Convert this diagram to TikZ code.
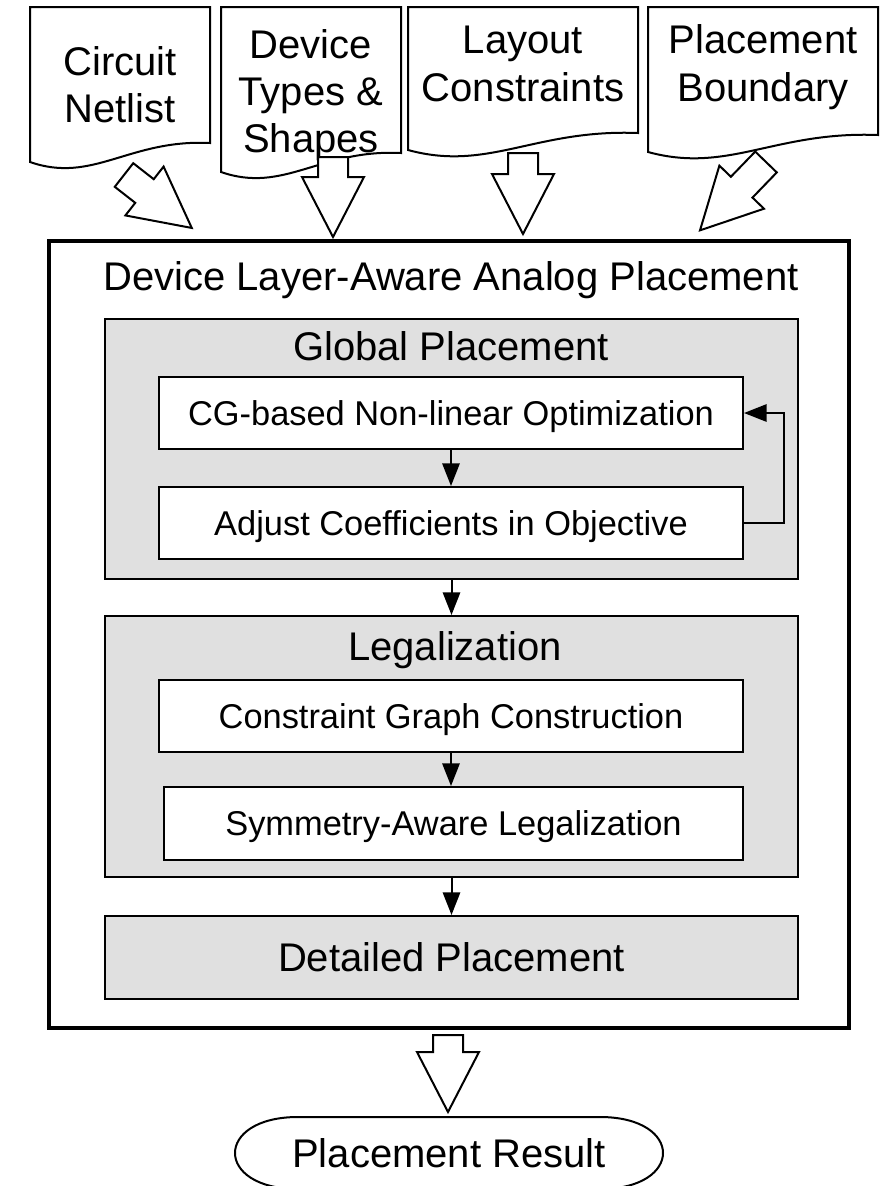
\documentclass[tikz,border=0pt]{standalone}
\usepackage{fontspec}
\setmainfont{Liberation Sans}
\usetikzlibrary{fit, calc, arrows.meta}

\definecolor{groupgray}{RGB}{224,224,224}

\newcommand{\docshape}[4]{%
  \draw[doc] (#1,7) -- (#2,7) -- (#2,#4)
    .. controls ({#1+0.55*(#2-#1)},{#4-4}) and ({#1+0.35*(#2-#1)},{#3+22}) .. (#1,#3) -- cycle;}

\tikzset{
  bigfont/.style={font=\fontsize{30}{35.5}\selectfont},
  smallfont/.style={font=\fontsize{25.8}{30}\selectfont},
  outerbox/.style={draw, line width=3pt, inner sep=0pt},
  groupbox/.style={draw, fill=groupgray, line width=1.5pt, inner sep=0pt},
  stepbox/.style={draw, fill=white, line width=1.5pt, inner sep=0pt},
  steptext/.style={smallfont, inner sep=0pt, text height=18.6pt, text depth=0pt},
  bigtext/.style={bigfont, inner sep=0pt, text height=21.6pt, text depth=0pt},
  flow/.style={line width=1.5pt, -{Triangle[length=17pt,width=13pt]}},
  doc/.style={draw, fill=white, line width=1.5pt},
  docfont/.style={bigfont, align=center},
  blockarrow/.pic={\draw[fill=white, line width=1.5pt] (-15,0) -- (15,0) -- (15,#1) -- (31,#1) -- (0,#1+60) -- (-31,#1) -- (-15,#1) -- cycle;}
}

\begin{document}
\begin{tikzpicture}[x=0.75pt, y=-0.75pt]
\useasboundingbox (0,0) rectangle (884,1186);

% inputs
\docshape{30}{210}{162}{143}
\docshape{221}{401}{172}{153}
\docshape{408}{638}{150}{133}
\docshape{648}{878}{152}{135}
\node[docfont] (netlist) at (120,85) {Circuit\\Netlist};
\node[docfont] (devices) at (311,95) {Device\\Types \&\\Shapes};
\node[docfont] (constr) at (523,64) {Layout\\Constraints};
\node[docfont] (boundary) at (763,67) {Placement\\Boundary};

\coordinate (in1) at (124,175);
\coordinate (in2) at (333,157);
\coordinate (in3) at (523,153);
\coordinate (in4) at (766,162);
\pic[rotate=52] at (in1) {blockarrow=26};
\pic at (in2) {blockarrow=20};
\pic at (in3) {blockarrow=21};
\pic[rotate=-44] at (in4) {blockarrow=35};

% placer
\node[outerbox, fit={(49,241)(849,1028)}] (placer) {};
\node[bigfont, anchor=base] (placertitle) at (451,290) {Device Layer-Aware Analog Placement};

\node[groupbox, fit={(105,319)(798,579)}] (global) {};
\node[bigfont, anchor=base] (globaltitle) at (451,360) {Global Placement};
\node[stepbox, fit={(159,377)(743,449)}] (cg) {};
\node[steptext] (cgtext) at (cg.center) {CG-based Non-linear Optimization};
\node[stepbox, fit={(159,487)(743,559)}] (adjust) {};
\node[steptext] (adjusttext) at (adjust.center) {Adjust Coefficients in Objective};

\node[groupbox, fit={(105,616)(798,877)}] (legal) {};
\node[bigfont, anchor=base] (legaltitle) at (455,660) {Legalization};
\node[stepbox, fit={(159,680)(743,752)}] (cgraph) {};
\node[steptext] (cgraphtext) at (cgraph.center) {Constraint Graph Construction};
\node[stepbox, fit={(164,787)(743,860)}] (symm) {};
\node[steptext] (symmtext) at (symm.center) {Symmetry-Aware Legalization};

\node[groupbox, fit={(105,916)(798,999)}] (detailed) {};
\node[bigtext] (detailedtext) at (detailed.center) {Detailed Placement};

\draw[flow] (cg) -- (adjust);
\draw[flow] (adjust.east) -- ++(40,0) |- (cg.east);
\draw[flow] (global) -- (legal);
\draw[flow] (cgraph.south) -- (cgraph.south |- symm.north);
\draw[flow] (legal) -- (detailed);

% output
\coordinate (out) at (448,1035);
\pic at (out) {blockarrow=17};
\node[bigtext] (result) at (449,1153) {Placement Result};
\draw[line width=1.5pt] (298,1117) -- (600,1117) .. controls (684,1117) and (684,1189) .. (600,1189)
  -- (298,1189) .. controls (214,1189) and (214,1117) .. (298,1117) -- cycle;
\end{tikzpicture}
\end{document}
